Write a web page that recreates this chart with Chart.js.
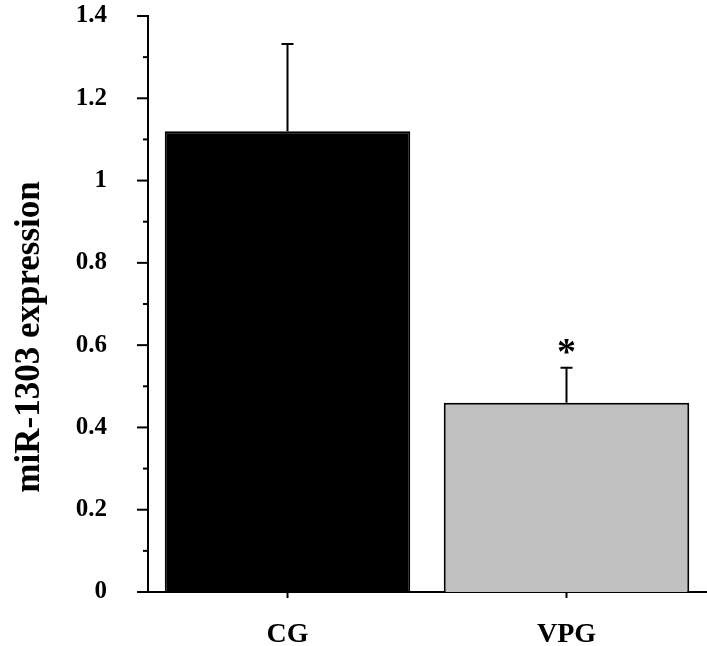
<!DOCTYPE html>
<html>
<head>
<meta charset="utf-8">
<script src="https://cdn.jsdelivr.net/npm/chart.js@4"></script>
<style>
  html, body { margin: 0; padding: 0; background: #fff; }
  #wrap { width: 707px; height: 646px; }
</style>
</head>
<body>
<div id="wrap"><canvas id="chart" width="707" height="646"></canvas></div>
<script>
// miR-1303 expression, CG vs VPG — bars with upper SD whiskers.
const categories = ['CG', 'VPG'];
const means = [1.12, 0.46];
const errTops = [1.332, 0.545];
const marks = ['', '*'];
const yTicks = [0, 0.2, 0.4, 0.6, 0.8, 1, 1.2, 1.4];
const yTitle = 'miR-1303 expression';

const SERIF = "'Liberation Serif', 'Times New Roman', serif";

// upper whisker + cap for each bar, plus significance star
const errorBars = {
  id: 'errorBars',
  afterDatasetsDraw(chart) {
    const { ctx, scales: { x, y } } = chart;
    ctx.save();
    ctx.strokeStyle = '#000';
    ctx.lineWidth = 2;
    categories.forEach((c, i) => {
      const cx = x.getPixelForValue(i);
      const top = y.getPixelForValue(errTops[i]);
      const base = y.getPixelForValue(means[i]);
      ctx.beginPath();
      ctx.moveTo(cx, base);
      ctx.lineTo(cx, top);
      ctx.moveTo(cx - 6, top);
      ctx.lineTo(cx + 6, top);
      ctx.stroke();
      if (marks[i]) {
        ctx.fillStyle = '#000';
        ctx.font = `bold 38px ${SERIF}`;
        ctx.textAlign = 'center';
        ctx.textBaseline = 'middle';
        ctx.fillText(marks[i], cx, top - 14);
      }
    });
    ctx.restore();
  },
};

// major ticks every 0.2, minor every 0.1, pointing left of the axis;
// y title sits a little below the middle of the axis, as in the source figure
const yAxisExtras = {
  id: 'yAxisExtras',
  afterDraw(chart) {
    const { ctx, scales: { y }, chartArea } = chart;
    const ax = chartArea.left;
    ctx.save();
    ctx.strokeStyle = '#000';
    ctx.lineWidth = 2;
    for (let k = 0; k <= 14; k++) {
      const py = y.getPixelForValue(k / 10);
      const len = k % 2 === 0 ? 11 : 5;
      ctx.beginPath();
      ctx.moveTo(ax - len, py);
      ctx.lineTo(ax, py);
      ctx.stroke();
    }
    ctx.translate(30, y.getPixelForValue(0.62));
    ctx.rotate(-Math.PI / 2);
    ctx.fillStyle = '#000';
    ctx.font = `bold 35px ${SERIF}`;
    ctx.textAlign = 'center';
    ctx.textBaseline = 'middle';
    ctx.fillText(yTitle, 0, 0);
    ctx.restore();
  },
};

new Chart(document.getElementById('chart'), {
  type: 'bar',
  data: {
    labels: categories,
    datasets: [{
      data: means,
      backgroundColor: ['#000000', '#c0c0c0'],
      borderColor: '#000',
      borderWidth: 2,
      borderSkipped: 'bottom',
      barPercentage: 0.88,
      categoryPercentage: 1,
    }],
  },
  options: {
    responsive: false,
    animation: false,
    devicePixelRatio: 1,
    layout: { padding: { top: 16, right: 1, left: 0, bottom: 0 } },
    plugins: { legend: { display: false }, tooltip: { enabled: false } },
    scales: {
      x: {
        offset: true,
        grid: { display: true, offset: false, drawOnChartArea: false, tickLength: 6, tickWidth: 2, color: '#000' },
        border: { color: '#000', width: 2 },
        ticks: { color: '#000', font: { family: SERIF, size: 28, weight: 'bold' }, padding: 20 },
        afterFit(s) { s.height = 54; s.paddingLeft = 0; s.paddingRight = 0; },
      },
      y: {
        min: 0,
        max: 1.4,
        afterBuildTicks(s) { s.ticks = yTicks.map((v) => ({ value: v })); },
        grid: { display: false },
        border: { color: '#000', width: 2 },
        ticks: {
          color: '#000',
          font: { family: SERIF, size: 25, weight: 'bold' },
          padding: 33,
          callback: (v) => String(Math.round(v * 10) / 10),
        },
        afterFit(s) { s.width = 148; s.paddingTop = 0; s.paddingBottom = 0; },
      },
    },
  },
  plugins: [errorBars, yAxisExtras],
});
</script>
</body>
</html>
